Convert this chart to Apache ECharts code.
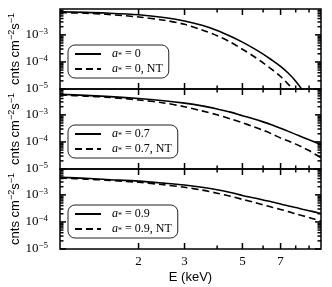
<!DOCTYPE html>
<html><head><meta charset="utf-8">
<script src="https://cdn.jsdelivr.net/npm/echarts@6/dist/echarts.min.js"></script>
<style>html,body{margin:0;padding:0;background:#fff}#c{width:332px;height:287px}</style>
</head><body><div id="c"></div>
<script>
// ---- data ----
const energies = [1.0,1.25,1.5,2.0,2.5,3.0,3.5,4.0,4.5,5.0,5.5,6.0,6.5,7.0,7.5,8.0,8.5,9.0,9.5,10.0];
const a0     = [7.08e-3,6.76e-3,6.38e-3,5.5e-3,4.37e-3,3.24e-3,2.24e-3,1.45e-3,8.9e-4,5.4e-4,3.24e-4,1.95e-4,1.15e-4,6.8e-5,3.8e-5,1.95e-5,8.9e-6,3.5e-6,1.2e-6,3.5e-7];
const a0NT   = [6.6e-3,6.3e-3,5.75e-3,4.57e-3,3.47e-3,2.45e-3,1.51e-3,9.3e-4,5.4e-4,2.95e-4,1.66e-4,9.3e-5,5.2e-5,2.9e-5,1.48e-5,7.1e-6,2.8e-6,1.0e-6,3.0e-7,1.0e-7];
const a07    = [5.75e-3,5.25e-3,4.8e-3,4.0e-3,3.3e-3,2.7e-3,2.15e-3,1.65e-3,1.26e-3,9.3e-4,7.2e-4,5.5e-4,4.2e-4,3.2e-4,2.45e-4,1.9e-4,1.5e-4,1.2e-4,9.7e-5,7.9e-5];
const a07NT  = [5.4e-3,4.9e-3,4.5e-3,3.55e-3,2.75e-3,2.0e-3,1.4e-3,1.0e-3,7.1e-4,5.1e-4,3.7e-4,2.7e-4,1.95e-4,1.4e-4,1.08e-4,8.3e-5,6.3e-5,4.8e-5,3.5e-5,2.6e-5];
const a09    = [4.4e-3,4.1e-3,3.7e-3,3.2e-3,2.7e-3,2.3e-3,1.9e-3,1.55e-3,1.23e-3,9.5e-4,7.8e-4,6.5e-4,5.4e-4,4.6e-4,3.9e-4,3.4e-4,2.95e-4,2.6e-4,2.3e-4,2.04e-4];
const a09NT  = [4.2e-3,3.8e-3,3.5e-3,2.9e-3,2.35e-3,1.9e-3,1.5e-3,1.15e-3,8.9e-4,6.8e-4,5.4e-4,4.3e-4,3.5e-4,2.9e-4,2.4e-4,2.0e-4,1.7e-4,1.45e-4,1.25e-4,1.08e-4];
const spinLabels = ['0','0.7','0.9'];
const xLimits = [1, 10];
const yLimits = [1e-5, 0.009];
const xMajorTicks = [2,3,5,7];
const xMinorTicks = [4,6,8,9];
const yMajorTicks = [1e-5,1e-4,1e-3];
const yMinorTicks = [2e-5,3e-5,4e-5,5e-5,6e-5,7e-5,8e-5,9e-5,2e-4,3e-4,4e-4,5e-4,6e-4,7e-4,8e-4,9e-4,2e-3,3e-3,4e-3,5e-3,6e-3,7e-3,8e-3];

// ---- chart ----
const chart = echarts.init(document.getElementById('c'), null, {renderer:'canvas'});
const SERIF = 'Liberation Serif', SANS = 'Liberation Sans';
const panels = [
  {solid:a0, dashed:a0NT, label:spinLabels[0]},
  {solid:a07, dashed:a07NT, label:spinLabels[1]},
  {solid:a09, dashed:a09NT, label:spinLabels[2]}
];
const gridTops = [9, 89, 169];
const legendTops = [45, 125, 205];
const MAJ = 6, MIN = 3.5, TW = 1.5;

function supLabel(v){
  const e = Math.log10(v), r = Math.round(e);
  if (Math.abs(e - r) > 1e-6) return '';
  return '{b|10}{s|' + (r < 0 ? '\u2212' + (-r) : r) + '}';
}

// tick marks as small rect symbols anchored on the axis edges (inside ticks)
function tickItems(){
  const d = [];
  const yT = (v, L) => {
    d.push({value:[xLimits[0], v], symbolSize:[L, TW], symbolOffset:[L/2, 0]});
    d.push({value:[xLimits[1], v], symbolSize:[L, TW], symbolOffset:[-L/2, 0]});
  };
  const xT = (v, L) => {
    d.push({value:[v, yLimits[0]], symbolSize:[TW, L], symbolOffset:[0, -L/2]});
    d.push({value:[v, yLimits[1]], symbolSize:[TW, L], symbolOffset:[0, L/2]});
  };
  yMajorTicks.forEach(v => yT(v, MAJ));
  yMinorTicks.forEach(v => yT(v, MIN));
  xMajorTicks.forEach(v => xT(v, MAJ));
  xMinorTicks.forEach(v => xT(v, MIN));
  return d;
}

const grid = [], xAxis = [], yAxis = [], series = [], legend = [];
const legendNames = {};

panels.forEach((p, i) => {
  grid.push({left:60, width:261, top:gridTops[i], height:80, show:true, borderColor:'#000', borderWidth:1.5,
             backgroundColor:'transparent', containLabel:false, outerBoundsMode:'none'});
  const last = i === panels.length - 1;
  xAxis.push({
    gridIndex:i, type:'log', logBase:10, min:xLimits[0], max:xLimits[1],
    axisLine:{show:false}, axisTick:{show:false}, splitLine:{show:false},
    minorTick:{show:false}, minorSplitLine:{show:false},
    axisLabel: last ? {show:true, customValues:xMajorTicks, margin:6, fontFamily:SERIF, fontSize:13, color:'#000',
      formatter: v => String(Math.round(v))} : {show:false},
    name: last ? 'E (keV)' : '', nameLocation:'middle', nameGap:22, nameMoveOverlap:false,
    nameTextStyle:{fontFamily:SANS, fontSize:13, color:'#000'}
  });
  yAxis.push({
    gridIndex:i, type:'log', logBase:10, min:yLimits[0], max:yLimits[1],
    axisLine:{show:false}, axisTick:{show:false}, splitLine:{show:false},
    minorTick:{show:false}, minorSplitLine:{show:false},
    axisLabel:{show:true, customValues:yMajorTicks, margin:12, formatter:supLabel, hideOverlap:false,
      rich:{ b:{fontFamily:SERIF, fontSize:13, color:'#000', lineHeight:16},
             s:{fontFamily:SERIF, fontSize:9, color:'#000', verticalAlign:'top', lineHeight:10} }},
    name:'{t|cnts cm}{s|\u22122}{t|s}{s|\u22121}', nameLocation:'middle', nameGap:37, nameRotate:90,
    nameMoveOverlap:false,
    nameTextStyle:{ rich:{ t:{fontFamily:SANS, fontSize:13, color:'#000', lineHeight:16},
                           s:{fontFamily:SANS, fontSize:9, color:'#000', verticalAlign:'top', lineHeight:10} } }
  });
  const nS = 's' + i, nD = 'd' + i;
  legendNames[nS] = '{i|a}{sub|*}{t| = ' + p.label + '}';
  legendNames[nD] = '{i|a}{sub|*}{t| = ' + p.label + ', NT}';
  series.push({
    name:nS, type:'line', xAxisIndex:i, yAxisIndex:i, symbol:'none', smooth:0.3,
    data: energies.map((e,k) => [e, p.solid[k]]),
    lineStyle:{color:'#000', width:1.6, type:'solid'}, itemStyle:{color:'#000'}, z:3
  });
  series.push({
    name:nD, type:'line', xAxisIndex:i, yAxisIndex:i, symbol:'none', smooth:0.3,
    data: energies.map((e,k) => [e, p.dashed[k]]),
    lineStyle:{color:'#000', width:1.6, type:[7,4]}, itemStyle:{color:'#000'}, z:3
  });
  series.push({
    name:'ticks' + i, type:'scatter', xAxisIndex:i, yAxisIndex:i, symbol:'rect',
    silent:true, clip:false, z:4, data: tickItems(),
    itemStyle:{color:'#000', opacity:1}, emphasis:{disabled:true}
  });
  legend.push({
    show:true, orient:'vertical', left:68, top:legendTops[i], data:[nS, nD],
    itemWidth:26, itemHeight:10, itemGap:3, padding:[3,6,3,6],
    borderColor:'#222', borderWidth:1, borderRadius:7, backgroundColor:'#fff',
    selectedMode:false,
    itemStyle:{color:'rgba(0,0,0,0)', borderColor:'rgba(0,0,0,0)', borderWidth:0, opacity:0},
    formatter: name => legendNames[name],
    textStyle:{ rich:{
      i:{fontFamily:SERIF, fontStyle:'italic', fontSize:12, color:'#000', padding:[0,0,0,6]},
      sub:{fontFamily:SERIF, fontSize:8, color:'#000', verticalAlign:'bottom', lineHeight:10},
      t:{fontFamily:SERIF, fontSize:12, color:'#000'} } }
  });
});

chart.setOption({animation:false, backgroundColor:'#fff', grid, xAxis, yAxis, series, legend});
</script></body></html>
